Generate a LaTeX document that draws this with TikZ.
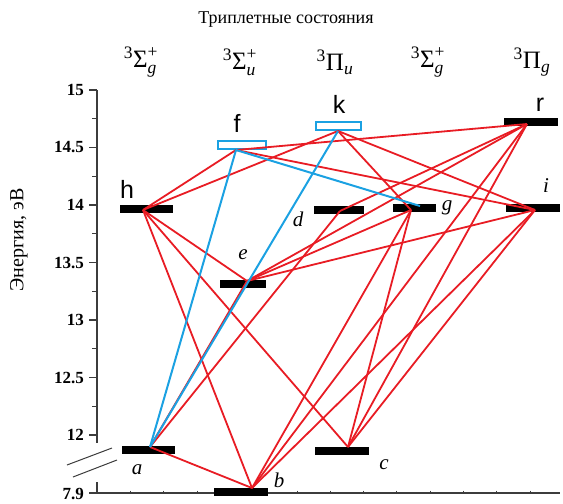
\documentclass[tikz,border=0pt]{standalone}
\usepackage{fontspec}
\usepackage{amsmath}
\setmainfont{Liberation Serif}
\newfontfamily\lblsans{Liberation Sans}
\usetikzlibrary{calc}
\definecolor{LineRed}{RGB}{232,28,36}
\definecolor{LineBlue}{RGB}{27,161,226}
\definecolor{AxisGray}{RGB}{60,60,60}

\begin{document}
\begin{tikzpicture}[
    x=1pt, y=-1pt,
    level/.style={rectangle, fill=black, inner sep=0pt,
                  minimum width=#1, minimum height=7.5pt},
    level/.default=53pt,
    hollow/.style={rectangle, draw=LineBlue, fill=white, line width=2pt,
                   inner sep=0pt, minimum width=#1, minimum height=8pt},
    hollow/.default=48pt,
    trans/.style={draw=LineRed, line width=1.8pt},
    btrans/.style={draw=LineBlue, line width=2pt},
    axis/.style={draw=AxisGray, line width=1.2pt},
    ticklbl/.style={font=\fontsize{17}{17}\selectfont\bfseries, anchor=east, inner sep=0pt},
    biglbl/.style={font=\lblsans\fontsize{25}{25}\selectfont, inner sep=0pt},
    itlbl/.style={font=\fontsize{21}{21}\selectfont\itshape, inner sep=0pt},
    term/.style={font=\fontsize{25}{25}\selectfont, inner sep=0pt},
]
\useasboundingbox (0,0) rectangle (563,504);

% ── Title and term headers ──
\node[font=\fontsize{18}{18}\selectfont] (title) at (286,20) {Триплетные состояния};
\node[term] (tSg) at (141,62) {${}^{\text{3}}\text{Σ}^{\text{+}}_{\textit{g}}$};
\node[term] (tSu) at (240,62) {${}^{\text{3}}\text{Σ}^{\text{+}}_{\textit{u}}$};
\node[term] (tPu) at (335,62) {${}^{\text{3}}\text{Π}_{\textit{u}}$};
\node[term] (tSg2) at (428,62) {${}^{\text{3}}\text{Σ}^{\text{+}}_{\textit{g}}$};
\node[term] (tPg) at (532,62) {${}^{\text{3}}\text{Π}_{\textit{g}}$};

% ── Energy axis ──
\node[rotate=90, font=\fontsize{20}{20}\selectfont] (ylab) at (19,240) {Энергия, эВ};
\draw[axis] (97,90) -- (97,443);
\foreach \y/\v in {90/15, 147.5/14.5, 205/14, 262.5/13.5, 320/13, 377.5/12.5, 435/12} {
    \draw[axis] (89,\y) -- (97,\y);
    \node[ticklbl] at (84,\y) {\v};
}
\foreach \y in {118.75,176.25,233.75,291.25,348.75,406.25}
    \draw[axis] (92,\y) -- (97,\y);

% ── Axis break and lower segment ──
\draw[draw=AxisGray, line width=1pt] (67,465) -- (112,448);
\draw[draw=AxisGray, line width=1pt] (73,477) -- (117,460);
\draw[axis] (97,482) -- (97,493) -- (560,493);
\draw[axis] (89,493) -- (97,493);
\node[ticklbl] at (84,494) {7.9};
\foreach \x in {130.3,163.6,196.9,230.2,263.5,296.8,330.1,363.4,396.7,430,463.3,496.6,529.9}
    \draw[draw=AxisGray, line width=0.6pt] (\x,490.5) -- (\x,493);

% ── Levels ──
\node[level] (lh) at (146,209) {};
\node[level] (la) at (148,450) {};
\node[level=54pt] (lb) at (241,492) {};
\node[level=54pt] (lc) at (342,451) {};
\node[level=46pt] (le) at (243,284) {};
\node[level=50pt] (ld) at (339,210) {};
\node[level=43pt] (lg) at (414,208) {};
\node[level=54pt] (li) at (533,208) {};
\node[level=54pt] (lr) at (531,122) {};
\node[hollow] (lf) at (242,145) {};
\node[hollow=45pt] (lk) at (338,126) {};

% ── Level labels ──
\node[biglbl] (nh) at (127,189) {h};
\node[biglbl] (nf) at (237,123) {f};
\node[biglbl] (nk) at (339,104) {k};
\node[biglbl] (nr) at (540,105) {r};
\node[itlbl] (ne) at (243,255) {e};
\node[itlbl] (nd) at (298,219) {d};
\node[itlbl] (ng) at (447,208) {g};
\node[itlbl] (ni) at (546,186) {i};
\node[itlbl] (na) at (137,470) {a};
\node[itlbl] (nb) at (279,480) {b};
\node[itlbl] (nc) at (384,465) {c};

% ── Transition end points ──
\coordinate (ph) at (143,210);
\coordinate (pa) at (150,447);
\coordinate (pb) at (252,488);
\coordinate (pc) at (348,447);
\coordinate (pe) at (247,281);
\coordinate (pd) at (340,211);
\coordinate (pf) at (236,150);
\coordinate (pk) at (338,131);
\coordinate (pg) at (411,210);
\coordinate (pgb) at (420,206);
\coordinate (pi) at (535,210);
\coordinate (pr) at (527,124);

% ── Red transitions ──
\draw[trans] (ph) -- (pf);
\draw[trans] (ph) -- (pk);
\draw[trans] (ph) -- (pe);
\draw[trans] (ph) -- (pb);
\draw[trans] (ph) -- (pc);
\draw[trans] (pa) -- (pe);
\draw[trans] (pa) -- (pd);
\draw[trans] (pa) -- (pb);
\draw[trans] (pf) -- (pr);
\draw[trans] (pf) -- (pi);
\draw[trans] (pk) -- (pg);
\draw[trans] (pk) -- (pi);
\draw[trans] (pd) -- (pr);
\draw[trans] (pe) -- (pg);
\draw[trans] (pe) -- (pi);
\draw[trans] (pe) -- (pr);
\draw[trans] (pb) -- (pg);
\draw[trans] (pb) -- (pr);
\draw[trans] (pb) -- (pi);
\draw[trans] (pc) -- (pg);
\draw[trans] (pc) -- (pr);
\draw[trans] (pc) -- (pi);

% ── Blue transitions ──
\draw[btrans] (pa) -- (pf);
\draw[btrans] (pa) -- (pk);
\draw[btrans] (pf) -- (pgb);

\end{tikzpicture}
\end{document}
